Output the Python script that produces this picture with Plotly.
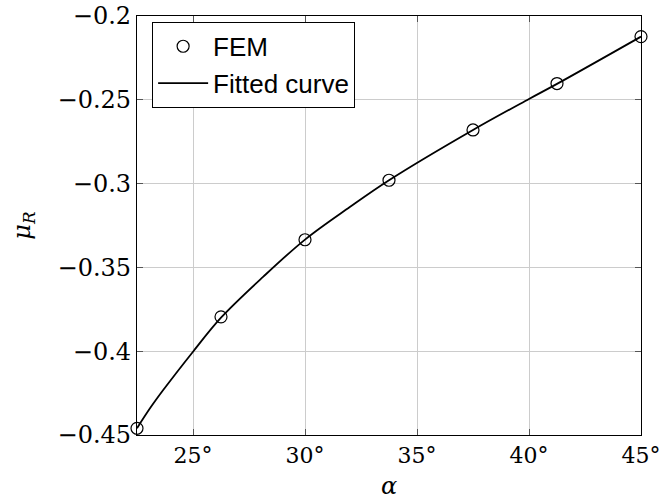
import plotly.graph_objects as go

fem_alpha = [22.5, 26.25, 30.0, 33.75, 37.5, 41.25, 45.0]
fem_mu = [-0.446, -0.3795, -0.3335, -0.298, -0.268, -0.2403, -0.2123]

fit_alpha = [22.5, 23.08, 23.67, 25.0, 26.25, 28.14, 30.0, 32.0, 33.75, 37.5, 40.0, 41.25, 45.0]
fit_mu = [-0.446, -0.4341, -0.4232, -0.4003, -0.3800, -0.3555, -0.3334, -0.3140, -0.2980,
          -0.2680, -0.2495, -0.2405, -0.2123]

x_ticks = [25, 30, 35, 40, 45]
x_tick_labels = ["25°", "30°", "35°", "40°", "45°"]
y_ticks = [-0.45, -0.4, -0.35, -0.3, -0.25, -0.2]
y_tick_labels = ["−0.45", "−0.4", "−0.35", "−0.3", "−0.25", "−0.2"]

fig = go.Figure()
fig.add_trace(go.Scatter(
    x=fem_alpha, y=fem_mu, mode="markers", name="FEM",
    marker=dict(symbol="circle-open", size=12, color="black", line=dict(width=1.2, color="black")),
    cliponaxis=False,
))
fig.add_trace(go.Scatter(
    x=fit_alpha, y=fit_mu, mode="lines", name="Fitted curve",
    line=dict(color="black", width=1.8, shape="spline", smoothing=1.0),
    cliponaxis=False,
))

serif = "DejaVu Serif"
axis_common = dict(
    showgrid=True, gridcolor="#cccccc", gridwidth=1,
    showline=True, linecolor="black", linewidth=1.2, mirror="ticks",
    ticks="inside", ticklen=6, tickcolor="#555555",
    zeroline=False, automargin=False,
)

fig.update_layout(
    width=661, height=504,
    margin=dict(l=137, r=20, t=16, b=69),
    plot_bgcolor="white", paper_bgcolor="white",
    xaxis=dict(range=[22.5, 45], tickvals=x_ticks, ticktext=x_tick_labels,
               tickfont=dict(family=serif, size=22, color="black"),
               title=dict(text="<i>α</i>", font=dict(family=serif, size=24, color="black"), standoff=10),
               **axis_common),
    yaxis=dict(range=[-0.45, -0.2], tickvals=y_ticks, ticktext=y_tick_labels,
               tickfont=dict(family=serif, size=24, color="black"),
               title=dict(text="<i>μ</i><sub><i>R</i></sub>", font=dict(family=serif, size=24, color="black"), standoff=20),
               **axis_common),
    legend=dict(x=0.03, y=0.986, xanchor="left", yanchor="top",
                bgcolor="white", bordercolor="black", borderwidth=1,
                font=dict(family="Liberation Sans, Arial, sans-serif", size=26, color="black"),
                itemwidth=50, tracegroupgap=0),
    showlegend=True,
)

fig.write_html("out.html", config={"displayModeBar": False},
               post_script="document.body.style.margin='0';document.body.style.padding='0';")
